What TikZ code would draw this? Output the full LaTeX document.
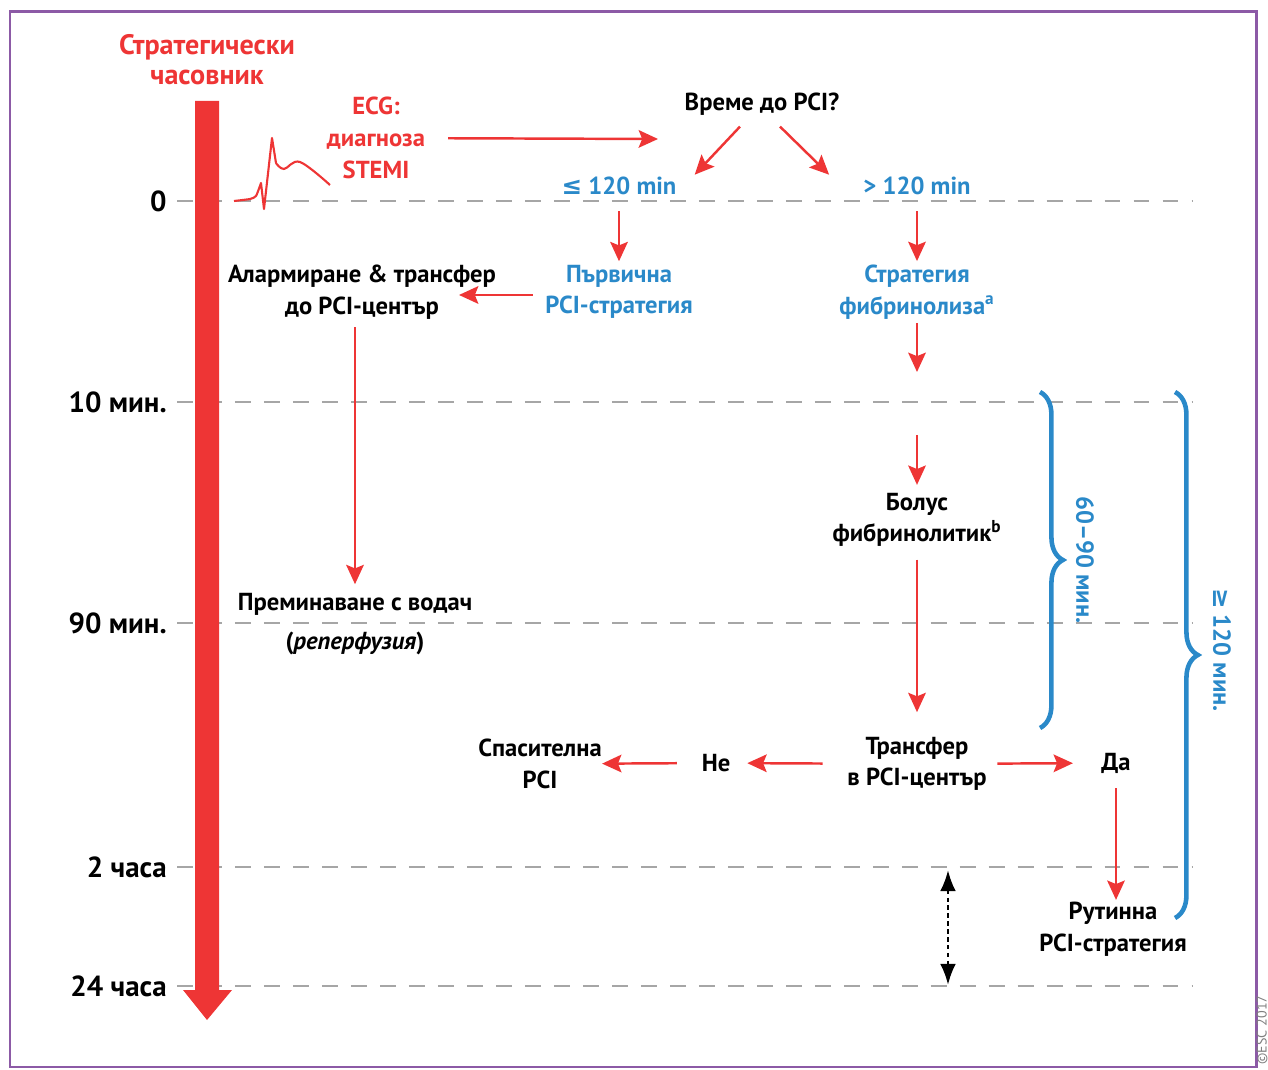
\documentclass[tikz,border=0pt]{standalone}
\usepackage{fontspec}
\setmainfont{PT Sans}
\newfontfamily\symf{DejaVu Sans}
\usepackage{tikz}
\usetikzlibrary{arrows.meta,decorations.pathreplacing}
\definecolor{clkred}{HTML}{EE3535}
\definecolor{escblue}{HTML}{2A89C9}
\definecolor{tickgray}{HTML}{A6A6A6}
\definecolor{framepurple}{HTML}{8C5AA6}

\begin{document}
\begin{tikzpicture}[
    x=0.02cm, y=-0.02cm,
    font=\fontsize{14}{18}\selectfont\bfseries,
    >={Stealth[length=11pt,width=10pt,inset=2pt]},
    txt/.style={align=center, inner sep=0pt},
    redtxt/.style={txt, text=clkred},
    bluetxt/.style={txt, text=escblue},
    tick/.style={anchor=east, inner sep=0pt, font=\fontsize{16.5}{18}\selectfont\bfseries},
    grid/.style={tickgray, line width=1.7pt, dash pattern=on 9pt off 7.5pt},
    arr/.style={->, clkred, line width=1.4pt},
    brc/.style={escblue, line width=2.6pt, decorate, decoration={brace, amplitude=13pt}}]
  \useasboundingbox (0,0) rectangle (1268,1070);
  \draw[framepurple, line width=1.7pt] (10,12) rectangle (1256,1067);
  % time axis
  \node[tick] (t0) at (167,201) {0};
  \node[tick] (t10) at (167,402) {10 мин.};
  \node[tick] (t90) at (167,623) {90 мин.};
  \node[tick] (t2h) at (167,867) {2 часа};
  \node[tick] (t24) at (167,986) {24 часа};
  \draw[grid] (177,201) -- (1192,201);
  \draw[grid] (177,402) -- (1192,402);
  \draw[grid] (177,623) -- (1192,623);
  \draw[grid] (177,867) -- (1192,867);
  \draw[grid] (177,986) -- (1192,986);
  \fill[clkred] (195,101) -- (219,101) -- (219,990) -- (232,990) -- (207,1020)
    -- (183,990) -- (195,990) -- cycle;
  \node[redtxt, font=\fontsize{16}{17}\selectfont\bfseries] (title) at (207,60) {Стратегически\\часовник};
  % ECG
  \draw[clkred, line width=1.2pt, line join=round]
    plot[smooth, tension=0.35] coordinates {(234,201) (250,199) (256,196) (261,183)}
    -- (264,209) -- (272,138) -- (276,163)
    plot[smooth, tension=0.6] coordinates {(276,163) (284,169) (300,162) (330,185)};
  \node[redtxt] (ecg) at (376,138) {ECG:\\диагноза\\STEMI};
  \node[txt] (ask) at (762,104) {Време до PCI?};
  \node[bluetxt] (le) at (619,186) {{\symf ≤} 120 min};
  \node[bluetxt] (gt) at (917,186) {> 120 min};
  \node[bluetxt] (prim) at (619,292) {Първична\\PCI-стратегия};
  \node[bluetxt] (fib) at (917,292) {Стратегия\\фибринолиза\textsuperscript{a}};
  \node[txt] (alarm) at (362,292) {Алармиране \& трансфер\\до PCI-център};
  \node[txt] (wire) at (355,624) {Преминаване с водач\\[4pt](\textit{реперфузия})};
  \node[txt] (bolus) at (917,520) {Болус\\фибринолитик\textsuperscript{b}};
  \node[txt] (trans) at (917,764) {Трансфер\\в PCI-център};
  \node[txt] (no) at (716,763) {Не};
  \node[txt] (rescue) at (540,764) {Спасителна\\PCI};
  \node[txt] (yes) at (1116,763) {Да};
  \node[txt] (routine) at (1113,929) {Рутинна\\PCI-стратегия};
  \coordinate (qin) at (658,139);
  \coordinate (alin) at (459,295);
  \coordinate (f10a) at (917,372);
  \coordinate (f10b) at (917,435);
  \coordinate (h2) at (948,870);
  \coordinate (h24) at (948,985);
  % connectors
  \draw[arr, shorten <=13pt] (ecg) -- (qin);
  \draw[arr] ([shift={(-22,11)}]ask.south) -- ([shift={(18,-2)}]le.north east);
  \draw[arr] ([shift={(18,11)}]ask.south) -- ([shift={(-34,-2)}]gt.north west);
  \draw[arr, shorten <=9pt, shorten >=2pt] (le) -- (prim);
  \draw[arr, shorten <=9pt, shorten >=2pt] (gt) -- (fib);
  \draw[arr, shorten <=7pt] (prim.west |- alin) -- (alin);
  \draw[arr, shorten <=4.5pt, shorten >=5pt] (alarm.south -| wire.north) -- (wire.north);
  \draw[arr, shorten <=2pt] (fib) -- (f10a);
  \draw[arr, shorten >=4.5pt] (f10b) -- (bolus);
  \draw[arr, shorten <=7pt, shorten >=14pt] (bolus) -- (trans);
  \draw[arr, shorten <=14pt, shorten >=9.5pt] (trans) -- (no);
  \draw[arr, shorten <=14pt] (no) -- (rescue);
  \draw[arr, shorten <=6pt, shorten >=16pt] (trans) -- (yes);
  \draw[arr, shorten <=8.5pt, shorten >=1pt] (yes) -- (yes |- routine.north);
  \draw[<->, >={Latex[length=12pt,width=9pt]}, line width=1.6pt, dash pattern=on 2.5pt off 2pt] (h2) -- (h24);
  % braces
  \draw[brc] (1040,392) -- (1040,728);
  \draw[brc] (1175,392) -- (1175,918);
  \node[bluetxt, rotate=-90] (win) at (1085,560) {60–90 мин.};
  \node[bluetxt, rotate=-90] (wall) at (1222,650) {{\symf ≥} 120 мин.};
  \node[txt, rotate=90, text=gray, font=\fontsize{8}{9}\selectfont] (copy) at (1262,1030) {©ESC 2017};
\end{tikzpicture}
\end{document}
